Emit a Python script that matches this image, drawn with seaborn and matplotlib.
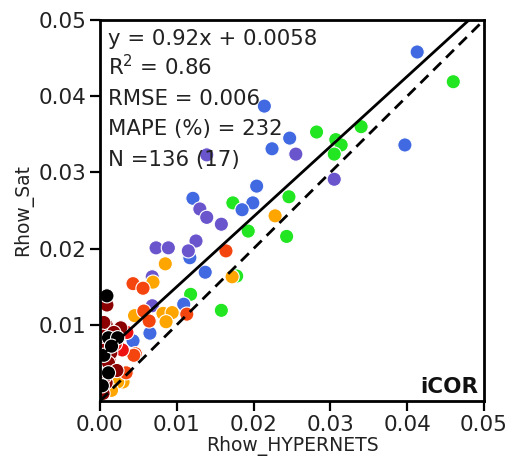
import numpy as np
import pandas as pd
import matplotlib
matplotlib.use("Agg")
import matplotlib.pyplot as plt
import seaborn as sns

# ---- data ----
green_x = [0.0282, 0.0340, 0.0307, 0.0314, 0.0305, 0.0460, 0.0246, 0.0193, 0.0243, 0.0173, 0.0178, 0.0118, 0.0158]
green_y = [0.0353, 0.0360, 0.0343, 0.0336, 0.0324, 0.0419, 0.0268, 0.0223, 0.0216, 0.0260, 0.0164, 0.0140, 0.0119]

blue_x = [0.0413, 0.0397, 0.0214, 0.0247, 0.0224, 0.0204, 0.0199, 0.0185, 0.0121, 0.0117, 0.0137, 0.0109, 0.0065, 0.0043]
blue_y = [0.0458, 0.0336, 0.0387, 0.0345, 0.0331, 0.0282, 0.0260, 0.0251, 0.0266, 0.0188, 0.0169, 0.0127, 0.0089, 0.0079]

purple_x = [0.0139, 0.0255, 0.0305, 0.0130, 0.0139, 0.0158, 0.0073, 0.0089, 0.0125, 0.0115, 0.0068, 0.0068]
purple_y = [0.0323, 0.0324, 0.0291, 0.0252, 0.0241, 0.0232, 0.0201, 0.0201, 0.0210, 0.0197, 0.0163, 0.0125]

orange_x = [0.0228, 0.0172, 0.0085, 0.0069, 0.0045, 0.0082, 0.0094, 0.0086, 0.0030, 0.0023, 0.0015]
orange_y = [0.0243, 0.0163, 0.0180, 0.0156, 0.0112, 0.0115, 0.0116, 0.0104, 0.0025, 0.0025, 0.0014]

orangered_x = [0.0043, 0.0056, 0.0164, 0.0057, 0.0064, 0.0113, 0.0046, 0.0034, 0.0044]
orangered_y = [0.0154, 0.0148, 0.0197, 0.0118, 0.0105, 0.0114, 0.0062, 0.0037, 0.0060]

red_x = [0.0029, 0.0020, 0.0012, 0.0035]
red_y = [0.0067, 0.0075, 0.0055, 0.0090]

darkred_x = [0.0009, 0.0008, 0.0027, 0.0002, 0.0014, 0.0011, 0.0008, 0.0004, 0.0005, 0.0018, 0.0003, 0.0022, 0.0006]
darkred_y = [0.0126, 0.0100, 0.0096, 0.0073, 0.0063, 0.0050, 0.0024, 0.0010, 0.0103, 0.0090, 0.0085, 0.0040, 0.0032]

black_x = [0.0009, 0.0011, 0.0011, 0.0023, 0.0005, 0.0003, 0.0015]
black_y = [0.0138, 0.0083, 0.0037, 0.0083, 0.0060, 0.0020, 0.0072]

groups = [
    ("green", green_x, green_y, "#22e622"),
    ("blue", blue_x, blue_y, "#4169e1"),
    ("purple", purple_x, purple_y, "#6a55cd"),
    ("orange", orange_x, orange_y, "#ffa500"),
    ("orangered", orangered_x, orangered_y, "#f4450f"),
    ("red", red_x, red_y, "#ee1111"),
    ("darkred", darkred_x, darkred_y, "#8b0000"),
    ("black", black_x, black_y, "#000000"),
]

slope, intercept = 0.92, 0.0058
stats_lines = ["y = 0.92x + 0.0058", "R$^2$ = 0.86", "RMSE = 0.006",
               "MAPE (%) = 232", "N =136 (17)"]
x_ticks = [0.00, 0.01, 0.02, 0.03, 0.04, 0.05]
y_ticks = [0.01, 0.02, 0.03, 0.04, 0.05]

rows = []
for name, xs, ys, col in groups:
    for x, y in zip(xs, ys):
        rows.append({"x": x, "y": y, "grp": name})
df = pd.DataFrame(rows)
palette = {name: col for name, _, _, col in groups}

sns.set_style("ticks")
plt.rcParams["font.family"] = ["DejaVu Sans"]

fig = plt.figure(figsize=(5.10, 4.61), dpi=100)
ax = fig.add_axes([100/510, 1 - 401/461, 384/510, 381/461])

sns.scatterplot(data=df, x="x", y="y", hue="grp", palette=palette,
                hue_order=[g[0] for g in groups], s=105,
                edgecolor="white", linewidth=0.8, legend=False, ax=ax, zorder=2)

lx = np.array([0.0, 0.05])
ax.plot(lx, slope * lx + intercept, color="black", lw=2.0, zorder=3)
ax.plot(lx, lx, color="black", lw=2.0, ls=(0, (4, 2.5)), zorder=3)

ax.set_xlim(0, 0.05)
ax.set_ylim(0, 0.05)
ax.set_xticks(x_ticks)
ax.set_yticks(y_ticks)
ax.set_xticklabels([f"{t:.2f}" for t in x_ticks])
ax.set_yticklabels([f"{t:.2f}" for t in y_ticks])
ax.tick_params(axis="both", labelsize=15.5, length=7, width=1.6, color="black",
               labelcolor="#222222", pad=3)
for sp in ax.spines.values():
    sp.set_linewidth(2.0)
    sp.set_color("black")
    sp.set_visible(True)

ax.set_xlabel("Rhow_HYPERNETS", fontsize=13.5, color="#222222", labelpad=1)
ax.set_ylabel("Rhow_Sat", fontsize=13.5, color="#222222", labelpad=4)

baselines = [45, 75, 105, 135, 166]
for txt, b in zip(stats_lines, baselines):
    ax.text(8/384, (401 - b)/381, txt, transform=ax.transAxes, fontsize=15.3,
            va="baseline", ha="left", color="#222222", zorder=4)

ax.text(0.985, (401 - 393)/381, "iCOR", transform=ax.transAxes, fontsize=15.5,
        fontweight="bold", ha="right", va="baseline", color="#111111", zorder=4)

fig.savefig("out.png", dpi=100)
